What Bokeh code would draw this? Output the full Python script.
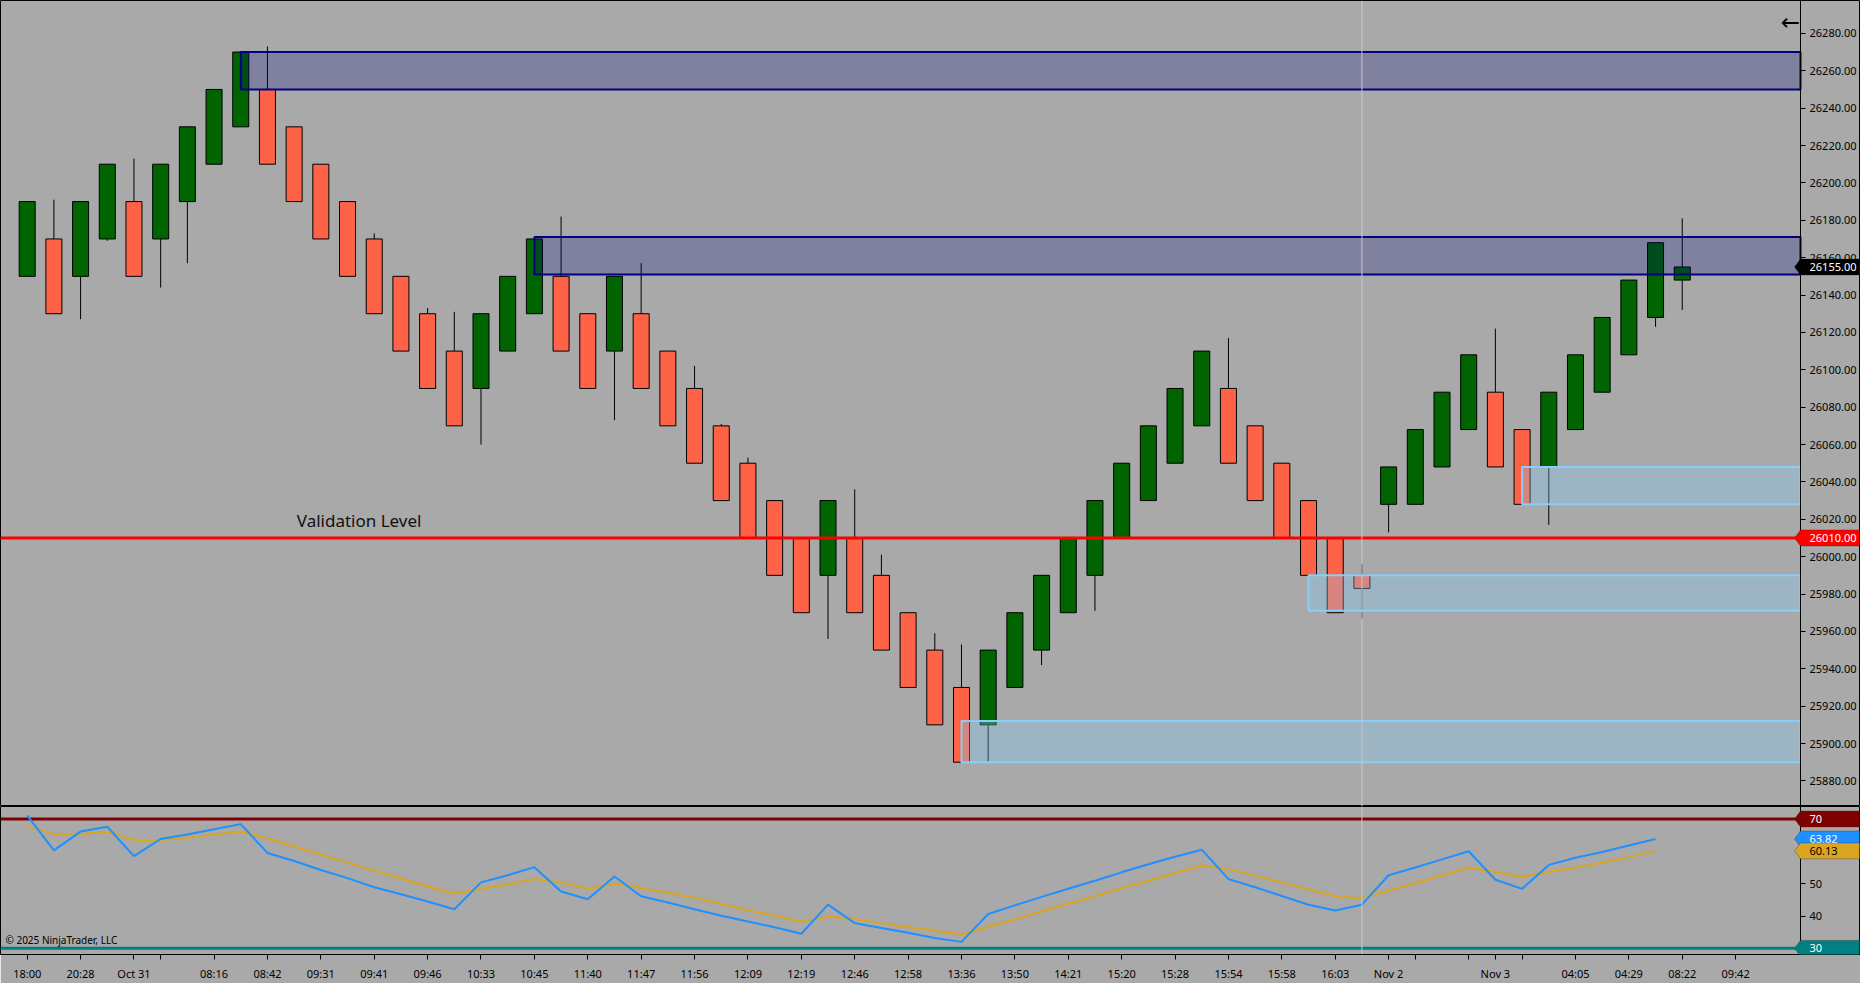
import numpy as np
from bokeh.plotting import figure
from bokeh.layouts import column
from bokeh.models import (ColumnDataSource, FixedTicker, Span, Label, PolyAnnotation,
                          Range1d, PrintfTickFormatter)
from bokeh.embed import file_html
from bokeh.resources import INLINE

# ---------------- data ----------------
opens = [26150, 26170, 26150, 26170, 26190, 26170, 26190, 26210, 26230, 26250,
         26230, 26210, 26190, 26170, 26150, 26130, 26110, 26090, 26110, 26130,
         26150, 26130, 26110, 26130, 26110, 26090, 26070, 26050, 26030, 26010,
         25990, 26010, 25990, 25970, 25950, 25930, 25910, 25930, 25950, 25970,
         25990, 26010, 26030, 26050, 26070, 26090, 26070, 26050, 26030, 26010,
         25990, 26028, 26028, 26048, 26068, 26088, 26068, 26048, 26068, 26088,
         26108, 26128, 26148]
highs = [26190, 26191, 26190, 26210, 26213, 26210, 26230, 26250, 26270, 26273,
         26230, 26210, 26190, 26173, 26150, 26133, 26131, 26130, 26150, 26170,
         26182, 26130, 26150, 26157, 26110, 26102, 26071, 26053, 26030, 26010,
         26030, 26036, 26001, 25970, 25959, 25953, 25950, 25970, 25990, 26010,
         26030, 26050, 26070, 26090, 26110, 26117, 26070, 26050, 26030, 26010,
         25996, 26048, 26068, 26088, 26108, 26122, 26068, 26088, 26108, 26128,
         26148, 26168, 26181]
lows = [26150, 26130, 26127, 26169, 26150, 26144, 26157, 26210, 26230, 26210,
        26190, 26170, 26150, 26130, 26110, 26090, 26070, 26060, 26110, 26130,
        26110, 26090, 26073, 26090, 26070, 26050, 26030, 26010, 25990, 25970,
        25956, 25970, 25950, 25930, 25910, 25890, 25890, 25930, 25942, 25970,
        25971, 26010, 26030, 26050, 26070, 26050, 26030, 26010, 25990, 25970,
        25967, 26013, 26028, 26048, 26068, 26048, 26028, 26017, 26068, 26088,
        26108, 26123, 26132]
closes = [26190, 26130, 26190, 26210, 26150, 26210, 26230, 26250, 26270, 26210,
          26190, 26170, 26150, 26130, 26110, 26090, 26070, 26130, 26150, 26170,
          26110, 26090, 26150, 26090, 26070, 26050, 26030, 26010, 25990, 25970,
          26030, 25970, 25950, 25930, 25910, 25890, 25950, 25970, 25990, 26010,
          26030, 26050, 26070, 26090, 26110, 26050, 26030, 26010, 25990, 25970,
          25983, 26048, 26068, 26088, 26108, 26048, 26028, 26088, 26108, 26128,
          26148, 26168, 26155]

rsi = [71.1, 60.3, 66.1, 67.6, 58.5, 63.8, 65.2, 66.8, 68.4, 59.5,
       57.0, 54.2, 51.7, 48.9, 46.7, 44.5, 42.1, 50.4, 52.6, 55.1,
       47.6, 45.2, 52.2, 46.1, 44.2, 42.1, 40.1, 38.3, 36.5, 34.5,
       43.5, 37.8, 36.3, 34.8, 33.2, 32.0, 40.6, 43.3, 45.9, 48.4,
       50.9, 53.5, 56.0, 58.3, 60.5, 51.4, 48.9, 46.2, 43.5, 41.7,
       43.5, 52.6, 55.0, 57.5, 60.0, 51.2, 48.4, 55.8, 58.0, 59.8,
       61.8, 63.82]
rsi_avg = [67.8, 65.3, 65.4, 66.0, 63.5, 63.5, 64.2, 65.2, 66.1, 64.1,
           61.5, 59.0, 56.5, 54.1, 51.6, 49.2, 46.9, 48.4, 49.8, 51.4,
           50.4, 48.4, 50.0, 48.7, 47.2, 45.6, 43.8, 41.8, 40.1, 38.3,
           39.8, 39.1, 37.8, 36.6, 35.5, 34.3, 36.6, 39.0, 41.4, 43.8,
           46.2, 48.6, 50.9, 53.3, 55.7, 54.5, 52.4, 50.4, 48.2, 46.1,
           45.4, 47.8, 50.1, 52.5, 55.0, 53.6, 52.1, 53.6, 55.0, 56.5,
           58.2, 60.13]

tick_idx = [0, 2, 4, 5, 7, 9, 11, 13, 15, 17, 19, 21, 23, 25, 27, 29, 31, 33,
            35, 37, 39, 41, 43, 45, 47, 49, 51, 52, 54, 55, 56, 58, 60, 62, 64]
tick_lbl = ["18:00", "20:28", "Oct 31", "", "08:16", "08:42", "09:31", "09:41",
            "09:46", "10:33", "10:45", "11:40", "11:47", "11:56", "12:09", "12:19",
            "12:46", "12:58", "13:36", "13:50", "14:21", "15:20", "15:28", "15:54",
            "15:58", "16:03", "Nov 2", "", "", "Nov 3", "", "04:05", "04:29",
            "08:22", "09:42"]

supply_left = [8, 19]
supply_bottom = [26250, 26151]
supply_top = [26270, 26171]
demand_left = [35, 48, 56]
demand_bottom = [25890, 25971, 26028]
demand_top = [25912, 25990, 26048]

validation_level = 26010
rsi_upper = 70
rsi_lower = 30
session_break = 50
price_ticks = list(range(25880, 26281, 20))
rsi_ticks = [40, 50]

# ---------------- styling ----------------
W = 1860
AXIS_PX = 1800          # pixel position of the price/RSI axis line
P_H = 806
R_FRAME = 149
R_AXIS = 28
BG = "#A9A9A9"
FONT = "Noto Sans"
UP = "#006400"
DOWN = "#FF6347"

x_start, axis_x = -1.0, 66.43
x_end = x_start + (axis_x - x_start) * W / AXIS_PX
x_range = Range1d(x_start, x_end)
p_yr = Range1d(25866.3, 26297.6)
r_yr = Range1d(28.1, 73.85)


def base_fig(height, yr, bottom, xloc):
    f = figure(width=W, height=height, x_range=x_range, y_range=yr,
               output_backend="svg", toolbar_location=None,
               x_axis_location=xloc, y_axis_location="right",
               min_border_left=0, min_border_right=0, min_border_top=0,
               min_border_bottom=bottom,
               background_fill_color=BG, border_fill_color=BG,
               outline_line_color="black", outline_line_width=1)
    f.grid.visible = False
    ax = f.yaxis[0]
    ax.fixed_location = axis_x
    ax.axis_line_color = "black"
    ax.major_tick_line_color = "black"
    ax.major_tick_out = 5
    ax.major_tick_in = 0
    ax.minor_tick_line_color = None
    ax.major_label_standoff = 4
    ax.major_label_text_font = FONT
    ax.major_label_text_font_size = "11px"
    ax.major_label_text_color = "black"
    return f


def tag(fig, y, text, fill, tcolor, yr, frame_h):
    hh = 8.0 * (yr.end - yr.start) / frame_h
    fig.add_layout(PolyAnnotation(
        xs=[AXIS_PX - 6, AXIS_PX, W - 1, W - 1, AXIS_PX],
        ys=[y, y + hh, y + hh, y - hh, y - hh],
        xs_units="screen", ys_units="data",
        fill_color=fill, fill_alpha=1.0, line_color="#202020", line_width=1))
    fig.add_layout(Label(x=AXIS_PX + 9, x_units="screen", y=y, y_units="data",
                         text=text, text_color=tcolor, text_font=FONT,
                         text_font_size="11px", text_baseline="middle",
                         text_align="left"))


def hline(fig, level, color, width):
    fig.segment(x0=[x_start], x1=[axis_x], y0=[level], y1=[level],
                line_color=color, line_width=width)


# ---------------- price panel ----------------
p = base_fig(P_H, p_yr, 0, None)
p.yaxis.ticker = FixedTicker(ticks=price_ticks)
p.yaxis.formatter = PrintfTickFormatter(format="%.2f")

n = len(opens)
idx = np.arange(n)
o = np.array(opens, dtype=float)
c = np.array(closes, dtype=float)
src = ColumnDataSource(dict(
    x=idx, high=highs, low=lows,
    top=np.maximum(o, c), bottom=np.minimum(o, c),
    color=[UP if cc >= oo else DOWN for oo, cc in zip(o, c)]))
p.segment(x0="x", y0="low", x1="x", y1="high", source=src,
          line_color="black", line_width=1)
p.vbar(x="x", width=0.6, top="top", bottom="bottom", source=src,
       fill_color="color", line_color="black", line_width=1)

p.quad(left=supply_left, right=[axis_x] * len(supply_left),
       bottom=supply_bottom, top=supply_top,
       fill_color="#000080", fill_alpha=0.24, line_color="#000080", line_width=2)
p.quad(left=demand_left, right=[axis_x] * len(demand_left),
       bottom=demand_bottom, top=demand_top,
       fill_color="#87CEFA", fill_alpha=0.32, line_color="#87CEFA", line_width=2)

hline(p, validation_level, "red", 3)
p.add_layout(Span(location=session_break, dimension="height",
                  line_color="#C8C8C8", line_width=1))
p.add_layout(Label(x=10.1, y=validation_level, y_offset=6, text="Validation Level",
                   text_font=FONT, text_font_size="17px", text_color="#111111",
                   text_baseline="bottom"))
p.add_layout(Label(x=AXIS_PX - 10, x_units="screen", y=26286, text="\u2190",
                   text_font="DejaVu Sans", text_font_size="23px", text_color="black",
                   text_align="center", text_baseline="middle"))

tag(p, validation_level, f"{validation_level:.2f}", "red", "white", p_yr, P_H)
tag(p, closes[-1], f"{closes[-1]:.2f}", "black", "white", p_yr, P_H)

# ---------------- RSI panel ----------------
r = base_fig(R_FRAME + R_AXIS, r_yr, R_AXIS, "below")
r.yaxis.ticker = FixedTicker(ticks=rsi_ticks)
xa = r.xaxis[0]
xa.ticker = FixedTicker(ticks=tick_idx)
xa.major_label_overrides = {i: l for i, l in zip(tick_idx, tick_lbl)}
xa.axis_line_color = "black"
xa.major_tick_line_color = "black"
xa.major_tick_out = 5
xa.major_tick_in = 0
xa.minor_tick_line_color = None
xa.major_label_standoff = 6
xa.major_label_text_font = FONT
xa.major_label_text_font_size = "11px"
xa.major_label_text_color = "black"

hline(r, rsi_upper, "#800000", 3)
hline(r, rsi_lower, "#008080", 3)
r.add_layout(Span(location=session_break, dimension="height",
                  line_color="#C8C8C8", line_width=1))
ridx = np.arange(len(rsi))
r.line(x=ridx, y=rsi_avg, line_color="#DAA520", line_width=2)
r.line(x=ridx, y=rsi, line_color="#1E90FF", line_width=2)

r.add_layout(Label(x=5, x_units="screen", y=32.6, text="\u00a9 2025 NinjaTrader, LLC",
                   text_font=FONT, text_font_size="10px", text_color="black",
                   text_baseline="middle"))

tag(r, rsi_upper, f"{rsi_upper}", "#800000", "white", r_yr, R_FRAME)
tag(r, rsi[-1], f"{rsi[-1]:.2f}", "#1E90FF", "white", r_yr, R_FRAME)
tag(r, rsi_avg[-1], f"{rsi_avg[-1]:.2f}", "#DAA520", "black", r_yr, R_FRAME)
tag(r, rsi_lower, f"{rsi_lower}", "#008080", "white", r_yr, R_FRAME)

layout = column(p, r, spacing=0)
open("out.html", "w").write(file_html(layout, INLINE))
